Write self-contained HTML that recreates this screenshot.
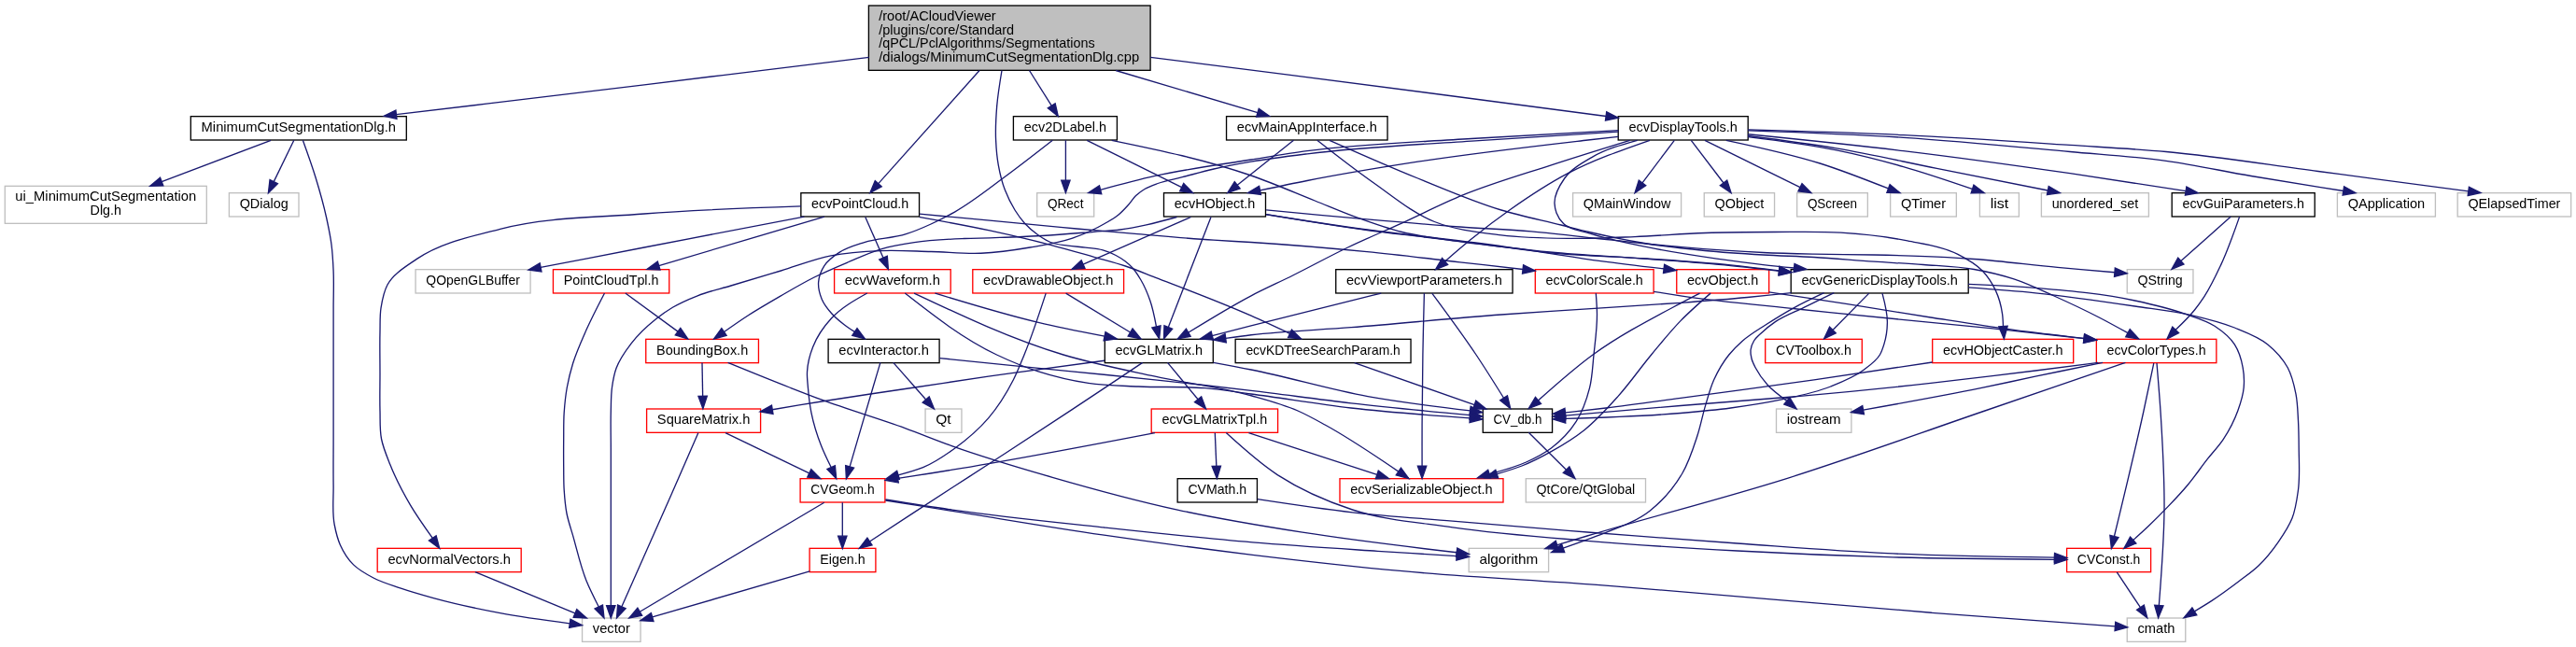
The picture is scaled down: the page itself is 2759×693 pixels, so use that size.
<!DOCTYPE html>
<html><head><meta charset="utf-8"><title>Include dependency graph</title>
<style>html,body{margin:0;padding:0;background:#fff;}svg{display:block;will-change:transform;}text{font-family:"Liberation Sans",sans-serif;font-size:14.2px;fill:#000;}
.e{fill:none;stroke:#191970;stroke-width:1.33;}.a{fill:#191970;stroke:#191970;stroke-width:1.33;}.n{fill:#fff;stroke-width:1.33;}</style></head><body>
<svg width="2759" height="693" viewBox="0 0 2759 693">
<rect x="0" y="0" width="2759" height="693" fill="#fff"/>
<rect x="930.4" y="6" width="301.7" height="69.33" fill="#bfbfbf" stroke="#000" stroke-width="1.33"/>
<text x="941.2" y="22" textLength="125.5" lengthAdjust="spacingAndGlyphs">/root/ACloudViewer</text>
<text x="941.2" y="36.55" textLength="145" lengthAdjust="spacingAndGlyphs">/plugins/core/Standard</text>
<text x="941.2" y="51.1" textLength="231.5" lengthAdjust="spacingAndGlyphs">/qPCL/PclAlgorithms/Segmentations</text>
<text x="941.2" y="65.65" textLength="279" lengthAdjust="spacingAndGlyphs">/dialogs/MinimumCutSegmentationDlg.cpp</text>
<rect class="n" x="5.3" y="199.33" width="216" height="40" stroke="#bfbfbf"/>
<text x="113.3" y="215.3" text-anchor="middle" textLength="194" lengthAdjust="spacingAndGlyphs">ui_MinimumCutSegmentation</text>
<text x="113.3" y="230" text-anchor="middle" textLength="33.5" lengthAdjust="spacingAndGlyphs">Dlg.h</text>
<rect class="n" x="204.3" y="124.67" width="231" height="25.33" stroke="#000000"/>
<text x="319.8" y="141.13" text-anchor="middle" textLength="208.5" lengthAdjust="spacingAndGlyphs">MinimumCutSegmentationDlg.h</text>
<rect class="n" x="1085.4" y="124.67" width="111" height="25.33" stroke="#000000"/>
<text x="1140.9" y="141.13" text-anchor="middle" textLength="88.5" lengthAdjust="spacingAndGlyphs">ecv2DLabel.h</text>
<rect class="n" x="1313.55" y="124.67" width="172.5" height="25.33" stroke="#000000"/>
<text x="1399.8" y="141.13" text-anchor="middle" textLength="150" lengthAdjust="spacingAndGlyphs">ecvMainAppInterface.h</text>
<rect class="n" x="1733.2" y="124.67" width="139" height="25.33" stroke="#000000"/>
<text x="1802.7" y="141.13" text-anchor="middle" textLength="116.5" lengthAdjust="spacingAndGlyphs">ecvDisplayTools.h</text>
<rect class="n" x="245.4" y="206.67" width="74.6" height="25.33" stroke="#bfbfbf"/>
<text x="282.7" y="223.13" text-anchor="middle" textLength="52.1" lengthAdjust="spacingAndGlyphs">QDialog</text>
<rect class="n" x="857.85" y="206.67" width="126.7" height="25.33" stroke="#000000"/>
<text x="921.2" y="223.13" text-anchor="middle" textLength="104.2" lengthAdjust="spacingAndGlyphs">ecvPointCloud.h</text>
<rect class="n" x="1110.7" y="206.67" width="61" height="25.33" stroke="#bfbfbf"/>
<text x="1141.2" y="223.13" text-anchor="middle" textLength="38.5" lengthAdjust="spacingAndGlyphs">QRect</text>
<rect class="n" x="1246.5" y="206.67" width="109" height="25.33" stroke="#000000"/>
<text x="1301" y="223.13" text-anchor="middle" textLength="86.5" lengthAdjust="spacingAndGlyphs">ecvHObject.h</text>
<rect class="n" x="1684.6" y="206.67" width="116" height="25.33" stroke="#bfbfbf"/>
<text x="1742.6" y="223.13" text-anchor="middle" textLength="93.5" lengthAdjust="spacingAndGlyphs">QMainWindow</text>
<rect class="n" x="1825.25" y="206.67" width="75.3" height="25.33" stroke="#bfbfbf"/>
<text x="1862.9" y="223.13" text-anchor="middle" textLength="52.8" lengthAdjust="spacingAndGlyphs">QObject</text>
<rect class="n" x="1924.65" y="206.67" width="75.7" height="25.33" stroke="#bfbfbf"/>
<text x="1962.5" y="223.13" text-anchor="middle" textLength="53.2" lengthAdjust="spacingAndGlyphs">QScreen</text>
<rect class="n" x="2024.65" y="206.67" width="70.7" height="25.33" stroke="#bfbfbf"/>
<text x="2060" y="223.13" text-anchor="middle" textLength="48.2" lengthAdjust="spacingAndGlyphs">QTimer</text>
<rect class="n" x="2120.4" y="206.67" width="42" height="25.33" stroke="#bfbfbf"/>
<text x="2141.4" y="223.13" text-anchor="middle" textLength="19.5" lengthAdjust="spacingAndGlyphs">list</text>
<rect class="n" x="2186.4" y="206.67" width="115" height="25.33" stroke="#bfbfbf"/>
<text x="2243.9" y="223.13" text-anchor="middle" textLength="92.5" lengthAdjust="spacingAndGlyphs">unordered_set</text>
<rect class="n" x="2326.2" y="206.67" width="153" height="25.33" stroke="#000000"/>
<text x="2402.7" y="223.13" text-anchor="middle" textLength="130.5" lengthAdjust="spacingAndGlyphs">ecvGuiParameters.h</text>
<rect class="n" x="2503.4" y="206.67" width="105" height="25.33" stroke="#bfbfbf"/>
<text x="2555.9" y="223.13" text-anchor="middle" textLength="82.5" lengthAdjust="spacingAndGlyphs">QApplication</text>
<rect class="n" x="2632.15" y="206.67" width="121.5" height="25.33" stroke="#bfbfbf"/>
<text x="2692.9" y="223.13" text-anchor="middle" textLength="99" lengthAdjust="spacingAndGlyphs">QElapsedTimer</text>
<rect class="n" x="445.1" y="288.66" width="123" height="25.33" stroke="#bfbfbf"/>
<text x="506.6" y="305.13" text-anchor="middle" textLength="100.5" lengthAdjust="spacingAndGlyphs">QOpenGLBuffer</text>
<rect class="n" x="592.45" y="288.66" width="124.3" height="25.33" stroke="#ff0000"/>
<text x="654.6" y="305.13" text-anchor="middle" textLength="101.8" lengthAdjust="spacingAndGlyphs">PointCloudTpl.h</text>
<rect class="n" x="893.6" y="288.66" width="124.6" height="25.33" stroke="#ff0000"/>
<text x="955.9" y="305.13" text-anchor="middle" textLength="102.1" lengthAdjust="spacingAndGlyphs">ecvWaveform.h</text>
<rect class="n" x="1041.8" y="288.66" width="161.8" height="25.33" stroke="#ff0000"/>
<text x="1122.7" y="305.13" text-anchor="middle" textLength="139.3" lengthAdjust="spacingAndGlyphs">ecvDrawableObject.h</text>
<rect class="n" x="1430.75" y="288.66" width="189.3" height="25.33" stroke="#000000"/>
<text x="1525.4" y="305.13" text-anchor="middle" textLength="166.8" lengthAdjust="spacingAndGlyphs">ecvViewportParameters.h</text>
<rect class="n" x="1644.3" y="288.66" width="126.8" height="25.33" stroke="#ff0000"/>
<text x="1707.7" y="305.13" text-anchor="middle" textLength="104.3" lengthAdjust="spacingAndGlyphs">ecvColorScale.h</text>
<rect class="n" x="1795.75" y="288.66" width="98.9" height="25.33" stroke="#ff0000"/>
<text x="1845.2" y="305.13" text-anchor="middle" textLength="76.4" lengthAdjust="spacingAndGlyphs">ecvObject.h</text>
<rect class="n" x="1918.2" y="288.66" width="190" height="25.33" stroke="#000000"/>
<text x="2013.2" y="305.13" text-anchor="middle" textLength="167.5" lengthAdjust="spacingAndGlyphs">ecvGenericDisplayTools.h</text>
<rect class="n" x="2278.25" y="288.66" width="70.7" height="25.33" stroke="#bfbfbf"/>
<text x="2313.6" y="305.13" text-anchor="middle" textLength="48.2" lengthAdjust="spacingAndGlyphs">QString</text>
<rect class="n" x="691.75" y="363.33" width="120.7" height="25.33" stroke="#ff0000"/>
<text x="752.1" y="379.8" text-anchor="middle" textLength="98.2" lengthAdjust="spacingAndGlyphs">BoundingBox.h</text>
<rect class="n" x="887.1" y="363.33" width="119" height="25.33" stroke="#000000"/>
<text x="946.6" y="379.8" text-anchor="middle" textLength="96.5" lengthAdjust="spacingAndGlyphs">ecvInteractor.h</text>
<rect class="n" x="1183.3" y="363.33" width="116" height="25.33" stroke="#000000"/>
<text x="1241.3" y="379.8" text-anchor="middle" textLength="93.5" lengthAdjust="spacingAndGlyphs">ecvGLMatrix.h</text>
<rect class="n" x="1323.15" y="363.33" width="187.9" height="25.33" stroke="#000000"/>
<text x="1417.1" y="379.8" text-anchor="middle" textLength="165.4" lengthAdjust="spacingAndGlyphs">ecvKDTreeSearchParam.h</text>
<rect class="n" x="1890.7" y="363.33" width="103.6" height="25.33" stroke="#ff0000"/>
<text x="1942.5" y="379.8" text-anchor="middle" textLength="81.1" lengthAdjust="spacingAndGlyphs">CVToolbox.h</text>
<rect class="n" x="2069.7" y="363.33" width="151" height="25.33" stroke="#ff0000"/>
<text x="2145.2" y="379.8" text-anchor="middle" textLength="128.5" lengthAdjust="spacingAndGlyphs">ecvHObjectCaster.h</text>
<rect class="n" x="2245.35" y="363.33" width="128.5" height="25.33" stroke="#ff0000"/>
<text x="2309.6" y="379.8" text-anchor="middle" textLength="106" lengthAdjust="spacingAndGlyphs">ecvColorTypes.h</text>
<rect class="n" x="692.6" y="438" width="122" height="25.33" stroke="#ff0000"/>
<text x="753.6" y="454.47" text-anchor="middle" textLength="99.5" lengthAdjust="spacingAndGlyphs">SquareMatrix.h</text>
<rect class="n" x="991.05" y="438" width="38.9" height="25.33" stroke="#bfbfbf"/>
<text x="1010.5" y="454.47" text-anchor="middle" textLength="16.4" lengthAdjust="spacingAndGlyphs">Qt</text>
<rect class="n" x="1233.2" y="438" width="135.4" height="25.33" stroke="#ff0000"/>
<text x="1300.9" y="454.47" text-anchor="middle" textLength="112.9" lengthAdjust="spacingAndGlyphs">ecvGLMatrixTpl.h</text>
<rect class="n" x="1588.25" y="438" width="74.3" height="25.33" stroke="#000000"/>
<text x="1625.4" y="454.47" text-anchor="middle" textLength="51.8" lengthAdjust="spacingAndGlyphs">CV_db.h</text>
<rect class="n" x="1902.5" y="438" width="80.4" height="25.33" stroke="#bfbfbf"/>
<text x="1942.7" y="454.47" text-anchor="middle" textLength="57.9" lengthAdjust="spacingAndGlyphs">iostream</text>
<rect class="n" x="857.1" y="512.67" width="90.8" height="25.33" stroke="#ff0000"/>
<text x="902.5" y="529.13" text-anchor="middle" textLength="68.3" lengthAdjust="spacingAndGlyphs">CVGeom.h</text>
<rect class="n" x="1261.15" y="512.67" width="85.3" height="25.33" stroke="#000000"/>
<text x="1303.8" y="529.13" text-anchor="middle" textLength="62.8" lengthAdjust="spacingAndGlyphs">CVMath.h</text>
<rect class="n" x="1435" y="512.67" width="175" height="25.33" stroke="#ff0000"/>
<text x="1522.5" y="529.13" text-anchor="middle" textLength="152.5" lengthAdjust="spacingAndGlyphs">ecvSerializableObject.h</text>
<rect class="n" x="1634.3" y="512.67" width="128.2" height="25.33" stroke="#bfbfbf"/>
<text x="1698.4" y="529.13" text-anchor="middle" textLength="105.7" lengthAdjust="spacingAndGlyphs">QtCore/QtGlobal</text>
<rect class="n" x="404.2" y="587.34" width="154" height="25.33" stroke="#ff0000"/>
<text x="481.2" y="603.8" text-anchor="middle" textLength="131.5" lengthAdjust="spacingAndGlyphs">ecvNormalVectors.h</text>
<rect class="n" x="867.1" y="587.34" width="70.8" height="25.33" stroke="#ff0000"/>
<text x="902.5" y="603.8" text-anchor="middle" textLength="48.3" lengthAdjust="spacingAndGlyphs">Eigen.h</text>
<rect class="n" x="1573.2" y="587.34" width="85.4" height="25.33" stroke="#bfbfbf"/>
<text x="1615.9" y="603.8" text-anchor="middle" textLength="62.9" lengthAdjust="spacingAndGlyphs">algorithm</text>
<rect class="n" x="2213.6" y="587.34" width="90" height="25.33" stroke="#ff0000"/>
<text x="2258.6" y="603.8" text-anchor="middle" textLength="67.5" lengthAdjust="spacingAndGlyphs">CVConst.h</text>
<rect class="n" x="623.55" y="662" width="62.5" height="25.33" stroke="#bfbfbf"/>
<text x="654.8" y="678.47" text-anchor="middle" textLength="40" lengthAdjust="spacingAndGlyphs">vector</text>
<rect class="n" x="2278.25" y="662" width="62.5" height="25.33" stroke="#bfbfbf"/>
<text x="2309.5" y="678.47" text-anchor="middle" textLength="40" lengthAdjust="spacingAndGlyphs">cmath</text>
<path class="e" d="M930.9,61.3C850.61,71.18 770.31,81.05 690,90.8C601.49,101.54 512.96,112.13 424.43,122.71"/><polygon class="a" points="423.88,118.07 411.2,124.3 424.99,127.35"/>
<path class="e" d="M1049,75.5L940.78,196.66"/><polygon class="a" points="937.3,193.55 931.9,206.6 944.26,199.77"/>
<path class="e" d="M1073,75.5C1070.88,88.17 1068.76,100.84 1067.7,113.6C1066.7,125.68 1066.06,137.9 1066.6,150C1067,158.95 1067.71,167.99 1069.3,176.8C1070.94,185.87 1073.1,195.02 1076.4,203.6C1079.24,210.99 1082.78,218.28 1087,225C1090.07,229.89 1093.43,234.73 1097.3,239C1101.7,243.85 1106.81,248.26 1112.2,252C1116.29,254.84 1120.61,257.67 1125.2,259.5C1131.03,261.82 1137.62,262.26 1143.9,263.2C1150.06,264.12 1156.32,264.32 1162.5,265.1C1168.75,265.89 1175.18,266.17 1181.2,267.9C1185.97,269.27 1190.69,271.19 1195.1,273.5C1198.68,275.38 1202.21,277.52 1205.4,280C1208.11,282.11 1210.69,284.47 1213,287C1216.53,290.87 1219.34,295.48 1222,300C1226.05,306.89 1229.17,314.45 1231.8,322C1234.94,331 1236.72,340.47 1238.49,349.94"/><polygon class="a" points="1233.95,351.03 1241.6,362.9 1243.04,348.85"/>
<path class="e" d="M1102.5,75.5L1126.21,113.21"/><polygon class="a" points="1122.25,115.7 1133.3,124.5 1130.16,110.73"/>
<path class="e" d="M1195,75.5L1346.92,120.7"/><polygon class="a" points="1345.59,125.17 1359.7,124.5 1348.26,116.22"/>
<path class="e" d="M1232.2,61.3C1281.47,67.54 1330.74,73.79 1380,80.1C1493.39,94.64 1606.74,109.56 1720.08,124.48"/><polygon class="a" points="1719.48,129.11 1733.3,126.2 1720.69,119.84"/>
<path class="e" d="M290.1,150.3L173.17,194.58"/><polygon class="a" points="171.51,190.21 160.7,199.3 174.82,198.95"/>
<path class="e" d="M314.8,150.3L293.23,194.61"/><polygon class="a" points="289.03,192.57 287.4,206.6 297.43,196.66"/>
<path class="e" d="M324.4,150.3C329.15,163.47 333.9,176.63 338,190C342.35,204.18 346.42,218.51 349.6,233C351.7,242.6 353.75,252.26 355,262C356.19,271.27 356.69,280.66 357.1,290C357.69,303.31 357.1,316.67 357.1,330C357.1,353.33 357.1,376.67 357.1,400C357.1,423.33 357.1,446.67 357.1,470C357.1,486.67 356.86,503.34 357.1,520C357.3,534 355.56,548.35 358.2,562C359.6,569.23 361.31,576.71 364.3,583.4C367.77,591.16 372.62,598.95 378.6,604.9C384.54,610.8 392.48,615.06 400,619C408.98,623.71 418.96,626.58 428.6,629.9C440.34,633.94 452.32,637.32 464.3,640.6C487.81,647.04 511.74,652.11 535.7,656.6C560.41,661.23 585.36,664.53 610.32,667.82"/><polygon class="a" points="609.62,672.44 623.5,669.8 611.01,663.2"/>
<path class="e" d="M1141.4,150.3L1141.4,193.27"/><polygon class="a" points="1136.73,193.27 1141.4,206.6 1146.07,193.27"/>
<path class="e" d="M1164.2,150.3L1265.66,200.67"/><polygon class="a" points="1263.58,204.86 1277.6,206.6 1267.74,196.49"/>
<path class="e" d="M1127.3,150.3C1110.47,163.48 1093.63,176.66 1076.4,189.3C1058.84,202.18 1041.81,216.09 1022.9,226.8C1014.51,231.55 1005.88,236 997.1,240C988.38,243.97 979.49,247.79 970.4,250.7C955.99,255.31 940.11,254.97 925.7,259.6C916.57,262.53 906.84,265.2 898.9,270.4C893.02,274.25 886.66,278.81 882.9,284.6C879.56,289.74 876.99,296.41 876.6,302.5C876.22,308.36 877.89,314.9 880.2,320.4C882.52,325.9 886.52,330.95 890.5,335.5C894.59,340.17 899.54,344.21 904.5,348C907.98,350.65 911.68,353.03 915.38,355.4"/><polygon class="a" points="912.75,359.26 926.4,362.9 918.01,351.54"/>
<path class="e" d="M1190.7,150.3C1241.15,160.73 1291.61,171.17 1340,188C1363.08,196.03 1385.56,205.94 1408.3,215C1422.81,220.78 1437.13,227.07 1451.8,232.4C1468.16,238.35 1484.63,244.34 1501.5,248.5C1517.79,252.52 1534.58,254.67 1551.2,257.2C1571.81,260.34 1592.58,262.51 1613.3,264.9C1628.86,266.7 1644.42,268.48 1660,270C1694.65,273.37 1729.48,274.76 1764.2,277.4C1794.01,279.67 1823.85,281.64 1853.6,284.6C1870.92,286.32 1888.21,288.33 1905.5,290.34"/><polygon class="a" points="1904.99,294.98 1918.75,291.8 1906.01,285.69"/>
<path class="e" d="M1385.5,150.3L1325.23,198.3"/><polygon class="a" points="1322.32,194.64 1314.8,206.6 1328.14,201.95"/>
<path class="e" d="M1410.8,150.3C1430.27,165.58 1449.74,180.86 1470,195C1491.53,210.03 1512.38,228.02 1536.4,237.5C1558.62,246.27 1583.84,248.82 1607.9,251.8C1631.49,254.72 1655.49,255.1 1679.3,255.4C1703.09,255.7 1726.91,254.53 1750.7,253.6C1775.91,252.61 1801.08,250.35 1826.3,249.5C1850.85,248.67 1875.43,248.54 1900,248.5C1923.8,248.46 1947.69,247.65 1971.4,249.2C1995.32,250.76 2019.42,253.16 2042.9,257.9C2060.94,261.54 2080.14,263.88 2096.4,272.1C2105.87,276.89 2115.91,282.38 2123.2,290C2129.02,296.08 2133.94,303.71 2137.5,311.4C2141.1,319.17 2143.41,327.86 2144.6,336.4C2145.2,340.75 2145.35,345.17 2145.5,349.6"/><polygon class="a" points="2140.84,349.92 2146.4,362.9 2150.16,349.28"/>
<path class="e" d="M1424,150.3C1455.39,164.22 1486.78,178.13 1518.6,191C1548.12,202.94 1577.46,215.81 1607.9,225C1628.95,231.36 1650.63,235.66 1672,241C1682,243.5 1691.97,246.15 1702,248.5C1722.59,253.31 1743.34,257.65 1764.2,261C1784.67,264.29 1805.35,266.5 1826,268.5C1846.75,270.51 1867.58,271.79 1888.4,273C1906.55,274.05 1924.75,274.44 1942.9,275.5C1964.29,276.75 1985.62,278.76 2007,280.2C2024.66,281.39 2042.35,282.14 2060,283.5C2078.12,284.89 2096.44,285.37 2114.3,288.5C2128.69,291.02 2143.12,294.36 2157,298.9C2171.73,303.72 2185.81,310.66 2200,317C2216.25,324.26 2232.38,331.85 2248.2,340C2258.57,345.34 2268.77,351 2278.98,356.66"/><polygon class="a" points="2276.75,360.76 2290.7,363 2281.2,352.55"/>
<path class="e" d="M1733.3,139.6C1680.75,142.34 1628.2,145.07 1575.7,148.5C1517.1,152.33 1458.17,153.88 1400,161.7C1379.95,164.39 1359.98,167.8 1340,171C1305.65,176.5 1271.03,180.83 1237.1,188.4C1217.48,192.78 1198.05,198.04 1178.62,203.31"/><polygon class="a" points="1177.46,198.78 1165.7,206.6 1179.77,207.83"/>
<path class="e" d="M1733.3,141.2C1682.19,144.22 1631.08,147.25 1580,150.8C1519.97,154.98 1459.7,157.38 1400,164.8C1379.97,167.29 1359.89,169.76 1340,173.2C1326.62,175.51 1313.24,177.97 1300,181C1288.7,183.59 1277.53,186.8 1266.3,189.7C1257.53,191.97 1248.48,193.4 1240,196.5C1235.24,198.24 1230.32,199.9 1226,202.5C1222.66,204.51 1219.44,206.93 1216.6,209.6C1213.35,212.66 1211.02,216.67 1208,220C1204.84,223.49 1201.62,227.02 1198,230C1193.62,233.62 1188.52,236.43 1183.6,239.3C1172.35,245.86 1160.2,251.24 1147.9,255.4C1133.54,260.25 1118.21,262.45 1103.2,265C1085.84,267.95 1068.26,270.49 1050.7,271.25C1032.89,272.02 1014.97,269.94 997.1,269.5C979.27,269.06 961.39,267.88 943.6,268.6C925.69,269.33 907.54,270.47 890,273.9C871.78,277.47 854.27,284.64 836.4,290C818.57,295.34 800.73,300.64 782.9,306C770.96,309.59 758.67,312.26 747.1,316.8C737.98,320.38 728.82,324.29 720.4,329.3C714.17,333.01 708.17,337.28 702.5,341.8C692.85,349.48 683.59,358.17 676.1,367.9C669.81,376.07 663.49,384.95 660,394.6C657.66,401.06 656.47,408.13 655.5,415C654.34,423.23 654.55,431.66 654.3,440C653.91,453.32 654.3,466.67 654.3,480C654.3,496.67 654.3,513.33 654.3,530C654.3,553.33 654.3,576.67 654.3,600C654.3,616.22 654.3,632.45 654.3,648.67"/><polygon class="a" points="649.63,648.67 654.3,662 658.97,648.67"/>
<path class="e" d="M1733.3,146.3C1722.43,147.52 1711.56,148.74 1700.7,150C1639.91,157.03 1579.07,163.9 1518.6,173.2C1478.97,179.29 1439.36,185.8 1400,193.5C1383.15,196.8 1366.35,200.35 1349.56,203.91"/><polygon class="a" points="1348.61,199.33 1336.5,206.6 1350.5,208.48"/>
<path class="e" d="M1745.7,150.3C1717.55,158.99 1689.4,167.67 1661.4,176.8C1629.74,187.12 1597.59,196.34 1566.8,208.9C1544.37,218.05 1522.78,229.26 1500.7,239.3C1481.7,247.94 1462.42,255.99 1443.6,265C1423.73,274.51 1404.43,285.2 1384.7,295C1369.86,302.38 1354.67,309.1 1340,316.8C1317.03,328.86 1294.92,342.51 1272.8,356.16"/><polygon class="a" points="1270.44,352.13 1261.3,362.9 1275.16,360.19"/>
<path class="e" d="M1767,150.3C1737.05,160.7 1707.1,171.1 1679.3,185.7C1657.6,197.1 1636.92,210.87 1616.8,225C1598.97,237.52 1581.72,250.99 1565,265C1559.13,269.92 1553.36,274.96 1547.6,280"/><polygon class="a" points="1544.55,276.46 1537.5,288.7 1550.65,283.54"/>
<path class="e" d="M1753.7,150.3C1737.11,154.91 1720.52,159.51 1706,167.9C1695.12,174.18 1682.73,180.97 1675.7,191C1670.36,198.62 1664.55,208.56 1665,217.9C1665.16,221.22 1665.82,224.85 1667,228C1668.63,232.33 1671.6,236.62 1674.8,239.8C1681.37,246.33 1692.9,246.8 1702.1,249.8C1722.31,256.39 1743.36,260.41 1764.2,264.7C1788.87,269.78 1813.86,273.48 1838.8,277.1C1855.3,279.49 1871.83,281.7 1888.4,283.6C1899.43,284.86 1910.49,285.95 1921.54,287.03"/><polygon class="a" points="1921.06,291.67 1934.8,288.4 1922.02,282.38"/>
<path class="e" d="M1793.3,150.3L1759.01,195.94"/><polygon class="a" points="1755.27,193.14 1751,206.6 1762.74,198.75"/>
<path class="e" d="M1811.3,150.3L1846.03,195.99"/><polygon class="a" points="1842.32,198.81 1854.1,206.6 1849.75,193.16"/>
<path class="e" d="M1826,150.3L1927.95,200.69"/><polygon class="a" points="1925.88,204.88 1939.9,206.6 1930.02,196.51"/>
<path class="e" d="M1848.8,150.3C1882.62,157.48 1916.45,164.66 1949.3,175C1974.06,182.8 1998.28,192.39 2022.49,201.99"/><polygon class="a" points="2020.88,206.37 2035,206.6 2024.11,197.61"/>
<path class="e" d="M1872.1,146.6C1903.93,150.54 1935.76,154.48 1967.1,160.9C1991.13,165.83 2015,171.9 2038.6,178.6C2063.49,185.67 2088.01,194.09 2112.52,202.5"/><polygon class="a" points="2111.08,206.94 2125.2,206.6 2113.95,198.06"/>
<path class="e" d="M1872.1,145.5C1903.84,149.54 1935.58,153.58 1967.1,158.9C2003.02,164.96 2038.56,173.27 2074.3,180.4C2113.97,188.31 2153.65,196.16 2193.32,204.01"/><polygon class="a" points="2192.42,208.59 2206.4,206.6 2194.23,199.43"/>
<path class="e" d="M1872.1,143.75C1927.64,149.33 1983.19,154.92 2038.6,161.6C2098.2,168.79 2157.69,177.07 2217.1,185.7C2258.48,191.71 2299.8,198.15 2341.12,204.59"/><polygon class="a" points="2340.42,209.21 2354.3,206.6 2341.83,199.98"/>
<path class="e" d="M1872.1,139.8C1927.63,141.77 1983.17,143.73 2038.6,147.3C2098.18,151.13 2157.63,157.06 2217.1,162.5C2251.41,165.64 2285.9,167.57 2320,172.3C2350.49,176.53 2380.63,183.33 2411,188.5C2443.9,194.1 2476.87,199.29 2509.84,204.47"/><polygon class="a" points="2509.1,209.08 2523,206.6 2510.59,199.86"/>
<path class="e" d="M1872.1,138.9C1927.62,140.45 1983.13,142 2038.6,144.6C2098.14,147.39 2157.62,151.48 2217.1,155.4C2251.41,157.66 2285.78,159.35 2320,162.5C2374.5,167.52 2428.61,176.4 2482.9,183.5C2536.54,190.52 2590.16,197.68 2643.79,204.85"/><polygon class="a" points="2643.17,209.48 2657,206.6 2644.4,200.22"/>
<path class="e" d="M858,220.9C801.94,222.77 745.87,224.64 690,229C638.46,233.02 585.42,232.38 535.7,245.3C505.29,253.2 472,259.63 446.4,277.4C435.12,285.23 421.33,293.2 415,305C411.07,312.33 409.32,321.51 408,330C406.73,338.19 407.21,346.66 407,355C406.61,369.99 407,385 407,400C407,413.33 406.62,426.68 407,440C407.29,450.01 406.62,460.26 408.5,470C410.33,479.48 414.3,488.66 417.9,497.7C423.79,512.52 431.23,526.84 439.3,540.6C446.54,552.95 454.91,564.64 463.27,576.33"/><polygon class="a" points="459.4,578.93 470.7,587.4 467.15,573.73"/>
<path class="e" d="M861.4,232.1C804.26,243.04 747.12,253.98 690,265C653.02,272.13 616.06,279.3 579.09,286.47"/><polygon class="a" points="578.2,281.88 566,289 579.97,291.05"/>
<path class="e" d="M882.9,232.1L705.68,284.61"/><polygon class="a" points="704.35,280.14 692.9,288.4 707.01,289.09"/>
<path class="e" d="M926.8,232.5L946.03,276.2"/><polygon class="a" points="941.76,278.08 951.4,288.4 950.31,274.32"/>
<path class="e" d="M984.8,232.5C1009.93,237.02 1035.05,241.53 1060,246.9C1081.83,251.6 1103.6,256.66 1125.2,262.3C1140.8,266.37 1156.29,270.89 1171.8,275.3C1183.01,278.49 1194.36,281.3 1205.4,285C1216.11,288.59 1226.55,293.03 1237.1,297.1C1271.56,310.4 1306.23,323.26 1340,338.2C1353.92,344.36 1367.71,350.84 1381.49,357.32"/><polygon class="a" points="1379.54,361.56 1393.6,362.9 1383.45,353.08"/>
<path class="e" d="M984.8,229.1C1009.87,231.47 1034.93,233.83 1060,236.2C1091.07,239.13 1122.12,242.22 1153.2,245C1174.93,246.94 1196.66,248.78 1218.4,250.6C1245.59,252.88 1272.77,255.43 1300,257.2C1313.33,258.07 1326.67,258.65 1340,259.5C1381.45,262.13 1422.87,265.63 1464.2,269.7C1497.38,272.97 1530.47,277.05 1563.6,280.8C1586.09,283.34 1608.57,285.92 1631.06,288.49"/><polygon class="a" points="1630.53,293.13 1644.3,290 1631.58,283.85"/>
<path class="e" d="M1260.4,232.5C1249.58,235.46 1238.75,238.42 1227.8,240.8C1218.53,242.81 1209.2,244.75 1199.8,246C1190.53,247.24 1181.14,247.56 1171.8,248.3C1153.17,249.79 1134.55,251.42 1115.9,252.5C1097.28,253.58 1078.64,254.23 1060,254.8C1050.97,255.08 1041.93,255.11 1032.9,255.5C1015,256.27 996.99,256.94 979.3,259.6C967.32,261.4 955.2,263.38 943.6,266.8C931.36,270.4 919.7,276.02 907.9,281C895.86,286.08 883.79,291.17 872.1,297C859.93,303.07 848.19,310 836.4,316.8C824.38,323.73 812.34,330.66 800.7,338.2C792.16,343.74 783.83,349.6 775.5,355.47"/><polygon class="a" points="772.86,351.61 764.5,363 778.14,359.32"/>
<path class="e" d="M1275.5,232.5L1160.11,283.05"/><polygon class="a" points="1158.24,278.77 1147.9,288.4 1161.98,287.33"/>
<path class="e" d="M1297,232.5L1251.31,350.47"/><polygon class="a" points="1246.96,348.78 1246.5,362.9 1255.67,352.16"/>
<path class="e" d="M1356.1,224.9C1392.12,228.34 1428.15,231.77 1464.2,234.9C1497.32,237.77 1530.44,240.62 1563.6,243C1589.05,244.82 1614.58,245.76 1640,247.9C1669.06,250.34 1697.99,254.2 1727,257.2C1751.83,259.77 1776.63,262.59 1801.5,264.7C1830.42,267.16 1859.4,269.23 1888.4,270.5C1906.55,271.29 1924.73,271.69 1942.9,272.1C1964.26,272.58 1985.64,272.51 2007,273C2033.24,273.61 2059.49,274.25 2085.7,275.7C2095.24,276.23 2104.77,276.82 2114.3,277.5C2144.13,279.64 2173.81,283.65 2203.6,286.4C2224.03,288.28 2244.48,290.01 2264.92,291.74"/><polygon class="a" points="2264.51,296.4 2278.2,292.9 2265.33,287.09"/>
<path class="e" d="M1356.1,229.7C1392.09,235.47 1428.07,241.24 1464.2,246C1484.87,248.72 1505.6,251 1526.3,253.5C1547,256 1567.73,258.25 1588.4,261C1605.62,263.29 1622.81,265.89 1640,268.4C1664.85,272.03 1689.62,276.22 1714.5,279.6C1736.98,282.65 1759.53,285.26 1782.07,287.88"/><polygon class="a" points="1781.5,292.51 1795.3,289.5 1782.64,283.24"/>
<path class="e" d="M1356.1,229.7C1392.08,235.69 1428.06,241.68 1464.2,246.5C1484.86,249.26 1505.6,251.48 1526.3,254C1547,256.52 1567.71,259.01 1588.4,261.6C1612.28,264.59 1636.07,268.4 1660,270.8C1694.6,274.27 1729.49,274.6 1764.2,277C1794.02,279.06 1823.87,280.89 1853.6,283.9C1870.93,285.65 1888.22,287.76 1905.51,289.88"/><polygon class="a" points="1904.97,294.51 1918.75,291.4 1906.04,285.24"/>
<path class="e" d="M2389.3,232.1L2335.87,279.55"/><polygon class="a" points="2332.77,276.06 2325.9,288.4 2338.97,283.04"/>
<path class="e" d="M2398.6,232.1C2392.51,249.63 2386.42,267.16 2378.6,283.9C2373.19,295.48 2367.73,307.22 2360.7,317.9C2357.52,322.73 2354.12,327.48 2350.5,332C2344.37,339.64 2337.28,346.49 2330.19,353.34"/><polygon class="a" points="2326.81,350.12 2321,363 2333.57,356.56"/>
<path class="e" d="M669.8,314L726.04,355.13"/><polygon class="a" points="723.28,358.9 736.8,363 728.8,351.36"/>
<path class="e" d="M647.5,314C640.68,327.07 633.87,340.15 627.9,353.6C622.71,365.31 617.35,377.07 613.6,389.3C611.02,397.71 608.86,406.34 607.3,415C605.71,423.83 604.81,432.84 604.2,441.8C603.57,451.17 603.79,460.6 603.7,470C603.61,480 603.59,490 603.7,500C603.79,508.33 603.65,516.69 604.2,525C604.75,533.36 605.4,541.8 607,550C608.56,557.99 611.36,565.75 613.6,573.6C618.22,589.79 621.7,606.44 628,622C631.86,631.54 636.57,640.75 641.28,649.96"/><polygon class="a" points="637.06,651.96 647,662 645.5,647.96"/>
<path class="e" d="M928.75,314C914.76,321.84 900.77,329.68 890.4,341C882.39,349.75 875.08,360.34 870.7,371.4C867.37,379.8 864.98,389.13 864.5,398.2C864.21,403.75 864.94,409.42 865.4,415C866.14,423.97 867.14,432.99 868.9,441.8C871.33,453.94 875.08,465.96 879.6,477.5C882.68,485.36 886.42,492.97 890.16,500.58"/><polygon class="a" points="885.91,502.52 895.7,512.7 894.4,498.64"/>
<path class="e" d="M969.3,314.1C1000.66,338.66 1032.03,363.21 1067.5,380C1081.91,386.82 1096.89,393.02 1112.1,397.9C1129.52,403.49 1147.61,407.72 1165.7,410.4C1183.36,413.02 1201.42,413.13 1219.3,414C1243.07,415.15 1267.01,413.69 1290.7,415.7C1307.19,417.1 1323.58,419.84 1340,422C1375.71,426.7 1411.23,432.89 1447,437C1489.33,441.87 1531.88,444.87 1574.42,447.87"/><polygon class="a" points="1574.02,452.52 1587.7,449 1574.82,443.21"/>
<path class="e" d="M979.1,314.1C1031.48,338.82 1083.86,363.54 1138.9,380C1171.03,389.61 1204.24,396.03 1237.1,403.2C1271.27,410.66 1306.39,414.26 1340,423.75C1356.84,428.5 1374,432.97 1390,440C1399.96,444.38 1409.54,449.76 1419.1,455C1441.12,467.06 1462.12,481.03 1483,495C1487.98,498.33 1492.93,501.72 1497.87,505.11"/><polygon class="a" points="1495.25,508.97 1508.9,512.6 1500.5,501.25"/>
<path class="e" d="M1001.4,314.1C1038.1,325.33 1074.81,336.57 1112.1,345.4C1135.59,350.96 1159.32,355.57 1183.05,360.18"/><polygon class="a" points="1182.1,364.75 1196.1,362.9 1184,355.61"/>
<path class="e" d="M1141.6,314.1L1210.6,355.98"/><polygon class="a" points="1208.18,359.98 1222,362.9 1213.03,351.99"/>
<path class="e" d="M1120.2,314.1C1113,336.28 1105.8,358.45 1097,380C1093.32,389.01 1089.81,398.16 1085.4,406.8C1077.99,421.32 1069.17,435.6 1058.6,447.9C1048.26,459.94 1035.78,470.63 1022.9,480C1012.15,487.82 1000.82,495.57 988.6,500.7C980.13,504.25 971.09,506.53 962.05,508.81"/><polygon class="a" points="960.69,504.34 949.3,512.7 963.41,513.27"/>
<path class="e" d="M1479.3,314.1C1432.84,325.59 1386.38,337.08 1340,348.9C1326.1,352.44 1312.21,356.02 1298.31,359.59"/><polygon class="a" points="1297.15,355.07 1285.4,362.9 1299.47,364.11"/>
<path class="e" d="M1525.4,314.1C1524.84,336.07 1524.28,358.03 1523.9,380C1523.47,405 1523.2,430 1523.1,455C1523.04,469.76 1523.07,484.51 1523.1,499.27"/><polygon class="a" points="1518.43,499.27 1523.1,512.6 1527.77,499.27"/>
<path class="e" d="M1533.75,314.1C1549.86,335.82 1565.97,357.55 1581,380C1591.17,395.2 1600.85,410.73 1610.53,426.26"/><polygon class="a" points="1606.59,428.78 1617.7,437.5 1614.46,423.75"/>
<path class="e" d="M1709.3,314.1C1709.87,321.54 1710.44,328.97 1710.5,336.4C1710.62,350.95 1708.53,365.5 1707,380C1705.74,391.93 1705.43,404.17 1702.5,415.7C1699.37,428.02 1694.95,440.76 1688.2,451.4C1681.32,462.24 1671.72,472.23 1661.4,480C1653.32,486.09 1643.88,490.79 1634.6,495C1622.09,500.67 1608.64,504.19 1595.19,507.71"/><polygon class="a" points="1593.75,503.26 1582.5,511.8 1596.62,512.15"/>
<path class="e" d="M1771.1,312.3C1780.73,313.84 1790.36,315.38 1800,316.8C1841.48,322.93 1883.31,326.53 1925,331C1966.64,335.46 2008.33,339.42 2050,343.6C2085.67,347.18 2121.36,350.48 2157,354.3C2182.03,356.98 2207.04,359.85 2232.05,362.71"/><polygon class="a" points="2231.53,367.36 2245.3,364.2 2232.57,358.07"/>
<path class="e" d="M1820.5,314.1C1813.65,317.64 1806.8,321.17 1800,324.8C1767.94,341.89 1735.29,358.7 1706,380C1685.51,394.9 1666.52,411.92 1647.52,428.94"/><polygon class="a" points="1644.52,425.36 1637.3,437.5 1650.52,432.53"/>
<path class="e" d="M1832.1,314.1C1821.11,323.66 1810.13,333.21 1800,343.6C1788.83,355.06 1778.86,367.69 1768.6,380C1756.41,394.62 1745.63,410.48 1732.9,424.6C1721.62,437.12 1710.24,449.95 1697.1,460.4C1686.05,469.18 1673.76,476.68 1661.4,483.6C1651.25,489.28 1640.81,494.72 1630,499C1621.31,502.44 1612.3,505.06 1603.28,507.68"/><polygon class="a" points="1601.83,503.24 1590.6,511.8 1604.72,512.12"/>
<path class="e" d="M1894.6,312.9C1922.61,317.12 1950.62,321.33 1978.6,325.7C2008.38,330.35 2038.11,335.38 2067.9,340C2097.58,344.61 2127.23,349.42 2157,353.4C2181.98,356.74 2207.02,359.58 2232.07,362.41"/><polygon class="a" points="2231.51,367.05 2245.3,364 2232.62,357.77"/>
<path class="e" d="M1918.75,313.6C1902.97,315.3 1887.2,317.01 1871.4,318.5C1847.63,320.75 1823.81,322.53 1800,324.3C1766.69,326.78 1733.33,328.59 1700,330.8C1669.3,332.83 1638.58,334.73 1607.9,337C1554.25,340.96 1500.73,346.45 1447.1,350.7C1411.41,353.53 1375.54,354.54 1340,358.75C1330.9,359.83 1321.81,361.06 1312.72,362.29"/><polygon class="a" points="1312.12,357.66 1299.5,364 1313.32,366.92"/>
<path class="e" d="M1953.6,313.6C1942.95,318.62 1932.3,323.65 1922,329.3C1911.7,334.95 1901.65,341.1 1891.8,347.5C1883.2,353.08 1874.19,358.28 1866.5,365C1861.25,369.59 1856.18,374.6 1851.8,380C1845.28,388.04 1839.97,397.36 1835.7,406.8C1831.84,415.32 1829.53,424.6 1826.8,433.6C1823.48,444.56 1821.44,455.92 1817.9,466.8C1813.44,480.5 1809,494.72 1801.8,507C1792.96,522.08 1780.62,536.46 1767,547.2C1750.84,559.94 1729.49,566.38 1710,574.2C1698.23,578.93 1686.19,583.01 1674.14,587.09"/><polygon class="a" points="1672.56,582.7 1661.6,591.6 1675.72,591.49"/>
<path class="e" d="M1964.3,313.6C1953.52,318.8 1942.74,324 1932,329.3C1921.91,334.28 1911.05,338.09 1901.8,344.4C1896.5,348.01 1891.37,352.07 1886.7,356.5C1883.87,359.19 1880.58,361.72 1878.6,365C1876.81,367.97 1875.34,371.57 1875,375C1874.71,377.93 1875.29,381.1 1876,384C1876.88,387.59 1878.7,391 1880.4,394.3C1883.69,400.69 1888.12,406.66 1892.9,412C1898.92,418.72 1906.39,424.09 1913.86,429.47"/><polygon class="a" points="1910.87,433.05 1924.1,438 1916.85,425.88"/>
<path class="e" d="M2001.8,314.1L1962.97,353.42"/><polygon class="a" points="1959.64,350.13 1953.6,362.9 1966.29,356.7"/>
<path class="e" d="M2016,314.1C2018.77,324.52 2021.54,334.95 2021.4,345.4C2021.29,353.12 2020.19,361.17 2017.9,368.6C2016.71,372.48 2015.41,376.54 2013.4,380C2009.58,386.58 2002.54,391.34 1996.4,396C1985.89,403.98 1973.01,409.09 1960.7,414C1943.6,420.83 1925.09,424.34 1907,428.2C1889.38,431.96 1871.47,434.61 1853.6,437C1835.81,439.38 1817.89,440.96 1800,442.5C1758.96,446.02 1717.74,447.2 1676.51,448.37"/><polygon class="a" points="1676.29,443.7 1663.2,449 1676.74,453.03"/>
<path class="e" d="M2108,307.9C2132.03,309.62 2156.05,311.35 2180,313.8C2215.65,317.45 2251.15,322.7 2286.6,328C2306.76,331.02 2327.17,333.02 2347,337.6C2362.62,341.21 2378.46,345.02 2393.3,351C2405.54,355.94 2418.72,360.7 2428.8,368.9C2437.13,375.67 2445.11,384.37 2450.2,393.8C2454.81,402.34 2457.12,412.53 2459,422.2C2460.8,431.48 2460.97,441.12 2461.5,450.6C2462.05,460.38 2462.13,470.2 2462.2,480C2462.31,495.17 2463.44,510.54 2461.4,525.5C2460.05,535.42 2458.62,545.74 2455,555C2451.49,563.97 2445.83,572.3 2440.3,580.3C2434.06,589.32 2427.1,598.12 2419.2,605.7C2412.75,611.89 2405.25,617.06 2398.1,622.5C2388.48,629.82 2378.73,637.01 2368.6,643.6C2362.62,647.49 2356.49,651.16 2350.36,654.82"/><polygon class="a" points="2347.91,650.84 2339,661.8 2352.8,658.8"/>
<path class="e" d="M2108,304.3C2132.03,305.33 2156.06,306.36 2180,308.4C2215.67,311.44 2251.67,314.38 2286.6,322C2304.56,325.92 2322.66,330.09 2340,336.2C2350.85,340.03 2362.52,343.06 2372,349.3C2379.93,354.52 2388.21,361.03 2393.3,368.9C2397.95,376.09 2400.65,385.22 2402.2,393.8C2403.45,400.69 2403.81,408.03 2403.2,415C2402.46,423.48 2399.69,431.95 2396.8,440C2392.95,450.71 2387.5,461.11 2381.2,470.6C2376.25,478.07 2369.86,484.61 2364.3,491.7C2357.18,500.77 2350.7,510.37 2343.3,519.2C2336.59,527.21 2329.42,534.84 2322.2,542.4C2315.33,549.59 2308.31,556.65 2301.1,563.5C2295.74,568.6 2290.23,573.55 2284.73,578.5"/><polygon class="a" points="2281.57,575.05 2274.9,587.5 2287.88,581.94"/>
<path class="e" d="M752,388.4L752.66,424.37"/><polygon class="a" points="747.99,424.46 752.9,437.7 757.33,424.29"/>
<path class="e" d="M779.6,388.4C801.59,397.38 823.58,406.36 845.7,415C857.11,419.46 868.52,423.93 880,428.2C909.46,439.17 939.76,447.83 969.3,458.6C986.28,464.79 1002.99,471.73 1020,477.8C1055.25,490.38 1091.24,500.92 1127.2,511.3C1171.49,524.09 1216.09,536.23 1261.1,546.1C1305.37,555.81 1350.22,563.14 1395,570.2C1449.83,578.85 1505.01,585.31 1560.18,591.77"/><polygon class="a" points="1559.58,596.4 1573.4,593.5 1560.79,587.14"/>
<path class="e" d="M1006.25,383.6C1053.46,388.38 1100.68,393.17 1147.9,397.9C1177.63,400.88 1207.39,403.66 1237.1,406.8C1271.43,410.43 1305.72,414.33 1340,418.4C1375.69,422.64 1411.29,427.73 1447,431.8C1489.42,436.64 1531.93,440.65 1574.44,444.66"/><polygon class="a" points="1573.97,449.31 1587.7,446 1574.91,440.02"/>
<path class="e" d="M956.8,388.4L991.69,428"/><polygon class="a" points="988.18,431.09 1000.5,438 995.19,424.91"/>
<path class="e" d="M942.9,388.4C940.26,397.27 937.63,406.13 935,415C926.63,443.28 918.39,471.59 910.14,499.91"/><polygon class="a" points="905.66,498.59 906.4,512.7 914.63,501.22"/>
<path class="e" d="M1183,386.25C1141.51,391.74 1100.02,397.22 1058.6,403.2C1032.25,407 1005.93,411.05 979.6,415C946.4,419.98 913.15,424.69 880,430C862.4,432.82 844.83,435.77 827.25,438.72"/><polygon class="a" points="826.49,434.12 814.1,440.9 828.01,443.33"/>
<path class="e" d="M1223.75,388.4C1198.5,405.28 1173.25,422.17 1147.9,438.9C1119.38,457.73 1090.77,476.41 1062.1,495C1049.21,503.36 1036.29,511.65 1023.4,520C992.69,539.9 962.07,559.96 931.46,580.01"/><polygon class="a" points="928.91,576.1 920.3,587.3 934.02,583.92"/>
<path class="e" d="M1250.5,388.4L1283.09,427.74"/><polygon class="a" points="1279.5,430.72 1291.6,438 1286.69,424.76"/>
<path class="e" d="M1299.6,388.4C1313.08,390.87 1326.56,393.34 1340,396C1381.92,404.3 1422.98,417 1465,424.6C1501.24,431.15 1537.87,435.55 1574.5,439.95"/><polygon class="a" points="1573.85,444.57 1587.7,441.8 1575.15,435.32"/>
<path class="e" d="M1450.7,388.6L1579.22,433.6"/><polygon class="a" points="1577.68,438 1591.8,438 1580.76,429.19"/>
<path class="e" d="M2069.6,388C2027.38,394.38 1985.16,400.75 1942.9,406.8C1895.31,413.61 1847.65,420.01 1800,426.4C1773.34,429.98 1746.71,433.8 1720,437C1705.49,438.74 1690.97,440.32 1676.45,441.91"/><polygon class="a" points="1675.92,437.27 1663.2,443.4 1676.97,446.55"/>
<path class="e" d="M2247,388.4C2224.67,391.3 2202.34,394.21 2180,397C2142.66,401.67 2105.3,406.26 2067.9,410.4C2020.32,415.66 1972.68,420.38 1925,424.6C1883.37,428.29 1841.66,431.07 1800,434.5C1758.82,437.89 1717.65,441.48 1676.48,445.06"/><polygon class="a" points="1676.08,440.41 1663.2,446.2 1676.88,449.72"/>
<path class="e" d="M2252,388.4C2227.99,393.28 2203.98,398.17 2180,403.2C2160.45,407.3 2140.97,411.69 2121.4,415.7C2079.62,424.25 2037.61,431.71 1995.6,439.16"/><polygon class="a" points="1994.75,434.57 1982.5,441.6 1996.46,443.75"/>
<path class="e" d="M2276.4,388.4C2226.24,405.61 2176.07,422.82 2125.9,440C2055.38,464.14 1985.38,489.94 1914.3,512.3C1843.41,534.6 1771.2,552.66 1700,574C1689.22,577.23 1678.44,580.49 1667.66,583.75"/><polygon class="a" points="1666.31,579.28 1654.9,587.6 1669.01,588.22"/>
<path class="e" d="M2306.8,389C2303.25,406.01 2299.7,423.02 2296,440C2286.19,485 2275.32,529.76 2264.44,574.52"/><polygon class="a" points="2259.9,573.46 2261.4,587.5 2268.99,575.59"/>
<path class="e" d="M2310,389C2311.57,407.66 2313.13,426.32 2314.3,445C2316.41,478.82 2318.32,512.75 2318,546.6C2317.68,580.58 2315.01,614.53 2312.34,648.49"/><polygon class="a" points="2307.68,648.23 2311.6,661.8 2317,648.75"/>
<path class="e" d="M777,463.6L866.74,506.91"/><polygon class="a" points="864.72,511.11 878.75,512.7 868.77,502.7"/>
<path class="e" d="M747.9,463.6C738.25,485.74 728.6,507.88 718.9,530C701.35,569.99 683.62,609.9 665.89,649.81"/><polygon class="a" points="661.62,647.92 660.5,662 670.16,651.7"/>
<path class="e" d="M1237,463.6C1164.78,477.49 1092.57,491.37 1020,503.2C1000.54,506.37 981.05,509.4 961.57,512.42"/><polygon class="a" points="960.84,507.81 948.4,514.5 962.3,517.03"/>
<path class="e" d="M1301.3,463.6L1302.83,499.28"/><polygon class="a" points="1298.16,499.48 1303.4,512.6 1307.49,499.08"/>
<path class="e" d="M1313.3,463.6C1330.9,479.72 1348.5,495.83 1368.2,508.6C1392.81,524.55 1420.76,536.84 1448.6,546C1482.77,557.25 1519.91,559.66 1555.8,564.8C1603.59,571.64 1651.87,575.24 1700,579.3C1753.49,583.82 1807.1,587.1 1860.7,590C1914.23,592.9 1967.81,595.15 2021.4,596.7C2081.07,598.42 2140.77,598.86 2200.47,599.31"/><polygon class="a" points="2200.4,603.98 2213.8,599.5 2200.54,594.64"/>
<path class="e" d="M1337.4,463.6L1474.83,508.46"/><polygon class="a" points="1473.38,512.9 1487.5,512.6 1476.28,504.02"/>
<path class="e" d="M1637.3,463.2L1677.55,503.2"/><polygon class="a" points="1674.25,506.52 1687,512.6 1680.84,499.89"/>
<path class="e" d="M882.8,538.2L685.27,655.21"/><polygon class="a" points="682.89,651.19 673.8,662 687.65,659.22"/>
<path class="e" d="M902.3,538.2L902.3,574.17"/><polygon class="a" points="897.63,574.17 902.3,587.5 906.97,574.17"/>
<path class="e" d="M948.4,535C972.25,538.84 996.1,542.68 1020,546.1C1073.38,553.73 1127.09,559 1180.7,564.8C1234.22,570.59 1287.76,576.41 1341.4,580.9C1386.02,584.64 1430.72,587.38 1475.4,590.3C1503.63,592.14 1531.86,593.86 1560.1,595.57"/><polygon class="a" points="1559.81,600.23 1573.4,596.4 1560.39,590.91"/>
<path class="e" d="M948.4,536C972.27,539.8 996.13,543.6 1020,547.4C1073.56,555.92 1127.04,565.07 1180.7,572.9C1234.17,580.7 1287.75,587.83 1341.4,594.3C1394.92,600.76 1448.52,606.77 1502.2,611.7C1571.34,618.05 1640.76,621.18 1710,626.4C1829.74,635.42 1949.28,647.02 2069,656.3C2134.45,661.37 2199.93,666.14 2265.41,670.91"/><polygon class="a" points="2265.06,675.57 2278.7,671.9 2265.75,666.25"/>
<path class="e" d="M1346.8,534.6C1380.68,539.77 1414.57,544.93 1448.6,548.8C1484.23,552.85 1520.06,555.06 1555.8,558.1C1603.86,562.18 1651.92,566.21 1700,570C1753.55,574.22 1807.12,578.22 1860.7,582C1914.25,585.78 1967.79,590.19 2021.4,592.7C2081.03,595.49 2140.75,596.33 2200.47,597.17"/><polygon class="a" points="2200.36,601.84 2213.8,597.5 2200.59,592.5"/>
<path class="e" d="M508.9,612.7L615.98,656.91"/><polygon class="a" points="614.2,661.23 628.3,662 617.76,652.6"/>
<path class="e" d="M867.3,611.9L698.7,660.97"/><polygon class="a" points="697.39,656.49 685.9,664.7 700,665.46"/>
<path class="e" d="M2267.3,612.8L2292.43,650.69"/><polygon class="a" points="2288.54,653.27 2299.8,661.8 2296.32,648.11"/>
</svg></body></html>
